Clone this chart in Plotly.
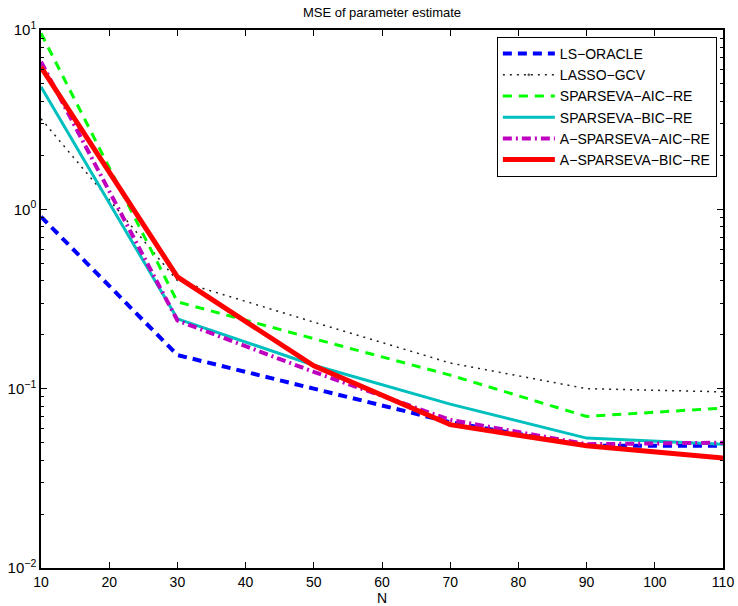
import plotly.graph_objects as go

N = [10, 30, 50, 70, 90, 110]
ls_oracle = [0.91, 0.154, 0.10, 0.065, 0.048, 0.048]
lasso_gcv = [3.2, 0.40, 0.235, 0.139, 0.100, 0.096]
sparseva_aic = [9.6, 0.305, 0.19, 0.119, 0.070, 0.078]
sparseva_bic = [4.83, 0.245, 0.135, 0.082, 0.053, 0.049]
a_sparseva_aic = [6.65, 0.24, 0.124, 0.067, 0.049, 0.050]
a_sparseva_bic = [6.2, 0.42, 0.134, 0.063, 0.048, 0.041]

fig = go.Figure()
fig.add_trace(go.Scatter(x=N, y=ls_oracle, name="LS\u2212ORACLE", mode="lines",
                         line=dict(color="#0000ff", width=4, dash="9px,6px")))
fig.add_trace(go.Scatter(x=N, y=lasso_gcv, name="LASSO\u2212GCV", mode="lines+markers",
                         line=dict(color="#222222", width=1.5, dash="2px,5px"),
                         marker=dict(size=[0] * len(N), color="#000000")))
fig.add_trace(go.Scatter(x=N, y=sparseva_aic, name="SPARSEVA\u2212AIC\u2212RE", mode="lines",
                         line=dict(color="#00ff00", width=3, dash="9px,7px")))
fig.add_trace(go.Scatter(x=N, y=sparseva_bic, name="SPARSEVA\u2212BIC\u2212RE", mode="lines",
                         line=dict(color="#00bfbf", width=3)))
fig.add_trace(go.Scatter(x=N, y=a_sparseva_aic, name="A\u2212SPARSEVA\u2212AIC\u2212RE", mode="lines",
                         line=dict(color="#bf00bf", width=4, dash="9px,4px,2px,4px")))
fig.add_trace(go.Scatter(x=N, y=a_sparseva_bic, name="A\u2212SPARSEVA\u2212BIC\u2212RE", mode="lines",
                         line=dict(color="#ff0000", width=5)))

minor_vals = [m * 10 ** e for e in (-2, -1, 0) for m in range(2, 10)]

W, H = 738, 606
L, R, T, B = 41, 723, 30, 568  # plot-area edges in pixels
fig.update_layout(
    width=W, height=H,
    margin=dict(l=L, r=W - R, t=T, b=H - B),
    paper_bgcolor="white", plot_bgcolor="white",
    font=dict(family="Liberation Sans, Arial, sans-serif", size=14, color="black"),
    title=dict(text="MSE of parameter estimate", x=(L + R) / 2 / W, xanchor="center",
               y=1 - 12 / H, yanchor="middle", font=dict(size=13)),
    showlegend=True,
    legend=dict(x=0.991, y=0.987, xanchor="right", yanchor="top",
                bgcolor="white", bordercolor="black", borderwidth=1,
                font=dict(size=14), itemwidth=52, tracegroupgap=0),
    xaxis=dict(range=[10, 110], tickvals=list(range(10, 111, 10)),
               ticks="inside", ticklen=6, tickcolor="black", automargin=False,
               showline=True, linecolor="black", linewidth=1.5, mirror="ticks",
               showgrid=False, zeroline=False,
               title=dict(text="N", standoff=2, font=dict(size=14)), tickfont=dict(size=14)),
    yaxis=dict(type="log", range=[-2, 1], automargin=False,
               tickvals=[0.01, 0.1, 1, 10],
               ticktext=["10<sup>\u22122</sup>", "10<sup>\u22121</sup>", "10<sup>0</sup>", "10<sup>1</sup>"],
               ticks="inside", ticklen=6, tickcolor="black",
               showline=True, linecolor="black", linewidth=1.5, mirror="ticks",
               showgrid=False, zeroline=False, tickfont=dict(size=15),
               minor=dict(tickvals=minor_vals, ticks="inside", ticklen=3, tickcolor="black")),
)

fig.write_html("out.html", config={"displayModeBar": False},
               post_script="document.body.style.margin='0';document.body.style.overflow='hidden';")
